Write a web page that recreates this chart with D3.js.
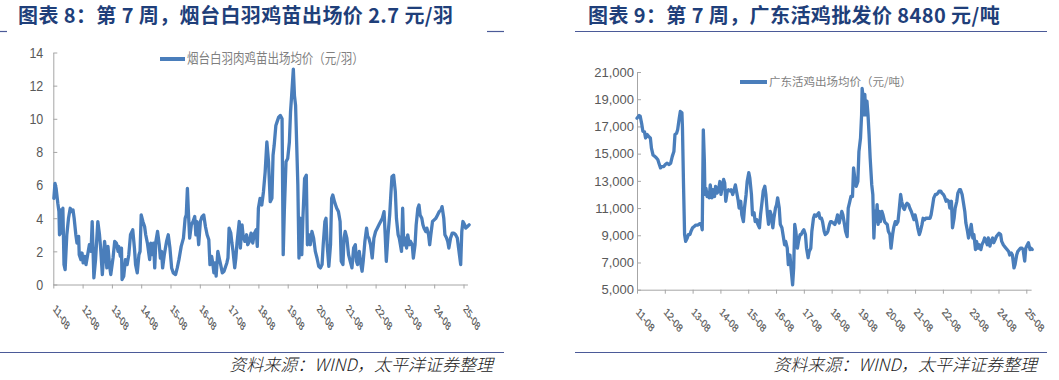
<!DOCTYPE html>
<html><head><meta charset="utf-8">
<script src="https://cdn.jsdelivr.net/npm/d3@7"></script>
<style>
body{margin:0;background:#fff}
svg{display:block}
.num{font-family:"Liberation Sans",Arial,sans-serif;fill:#595959}
.cjk{font-family:"Noto Sans CJK SC",sans-serif}
.ly text{transform-box:fill-box;transform-origin:center;transform:scaleY(1.2)}
</style></head>
<body>
<svg id="c" width="1059" height="380"></svg>
<script>
// ---------- data ----------
const xTickLabels = ["11-08","12-08","13-08","14-08","15-08","16-08","17-08","18-08","19-08","20-08","21-08","22-08","23-08","24-08","25-08"];
const xTickWeeks = [0,52,104,156,208,260,312,364,416,468,520,572,624,676,728];
const ytYTicks = [0,2,4,6,8,10,12,14];
const gdYTicks = [5000,7000,9000,11000,13000,15000,17000,19000,21000];

// 烟台白羽肉鸡苗出场均价 (元/羽) — week index since 2011-08
const ytWeek = [1,3,5,8,10,11,13,15,17,19,21,24,27,30,33,35,37,40,42,45,46,49,51,53,56,58,61,64,67,69,72,75,79,82,84,87,91,93,95,97,100,102,106,109,112,115,116,119,121,122,125,128,131,134,137,141,144,146,149,152,154,156,159,162,164,167,169,171,173,176,178,180,182,185,188,190,192,194,197,201,204,207,210,213,217,220,223,227,231,234,236,238,240,242,245,248,251,253,255,258,261,264,267,270,273,276,278,281,283,285,287,289,292,295,297,300,303,306,308,310,312,315,317,319,322,324,326,330,332,335,337,340,343,345,348,351,354,357,360,362,364,367,370,373,376,379,382,385,388,390,392,395,397,400,403,406,408,410,413,416,419,421,423,426,428,430,432,434,436,438,441,443,446,449,451,454,456,459,462,465,468,471,474,477,479,482,484,486,489,492,494,496,499,501,503,506,509,511,514,516,518,521,524,527,530,533,536,538,540,543,546,548,550,553,556,558,560,563,566,569,572,575,578,581,584,587,589,591,594,597,599,601,604,607,609,612,614,616,618,620,622,625,627,629,632,634,637,639,642,644,647,649,651,654,656,658,661,663,666,668,670,673,676,679,682,685,688,690,693,695,698,700,702,705,708,711,714,717,720,723,725,727,730,732,735,738];
const ytPrice = [5.2,6.1,5.8,4.9,4.4,3.0,4.5,3.1,4.6,1.2,0.9,3.0,4.0,4.6,4.4,4.5,4.0,3.0,2.5,2.9,1.8,1.5,1.9,1.3,1.7,1.2,1.8,2.4,2.0,3.8,0.4,1.5,3.8,3.0,2.2,0.6,2.6,2.0,1.0,2.3,1.1,0.6,1.6,2.6,2.5,2.0,2.3,1.7,2.2,0.3,0.5,1.5,1.2,1.8,3.0,3.3,2.2,1.2,0.7,1.8,2.0,4.2,3.8,3.5,3.0,2.5,2.0,1.5,2.5,1.8,2.5,1.0,2.6,3.2,2.4,1.6,2.0,1.0,1.8,2.6,3.0,2.2,1.0,0.7,0.6,1.0,1.5,2.3,2.8,4.0,4.2,5.8,4.2,2.8,3.6,3.8,4.1,3.0,3.8,2.4,3.8,4.1,4.2,3.5,3.0,2.7,1.2,1.7,1.3,0.7,1.3,0.5,2.0,1.5,1.2,0.7,0.8,1.1,1.3,1.6,3.4,3.1,2.5,2.0,1.0,1.6,2.5,3.8,2.2,3.6,2.9,2.6,3.0,2.4,2.6,3.1,2.5,3.1,3.3,2.3,4.6,5.2,4.8,5.6,6.8,8.6,7.4,5.0,5.2,7.8,8.4,9.6,9.8,10.1,10.2,10.0,1.8,4.4,7.4,7.6,8.6,10.4,11.4,13.0,11.4,10.8,8.4,6.0,1.6,4.0,1.8,4.0,6.4,6.6,2.4,3.0,2.4,3.2,2.8,2.0,1.6,1.1,1.0,1.2,2.4,3.8,4.0,2.4,1.1,2.4,5.2,5.4,5.0,4.8,4.6,4.4,3.8,1.4,1.2,2.8,3.2,2.8,1.8,1.4,1.0,2.2,2.4,1.4,1.2,2.0,1.2,0.8,1.4,2.6,3.4,2.9,2.8,2.4,1.6,2.8,3.2,3.4,3.6,3.8,4.0,4.4,3.0,1.4,3.0,4.2,5.4,6.5,6.6,5.6,4.0,3.0,2.8,2.4,2.0,4.6,2.4,2.8,2.2,3.0,2.4,2.6,2.4,1.6,2.4,3.6,4.6,4.8,4.2,4.0,3.6,3.4,3.2,3.4,3.0,2.4,3.0,3.8,3.9,4.0,4.2,4.4,4.5,4.7,4.0,3.0,2.8,2.6,2.2,2.8,3.1,3.1,3.0,2.8,2.0,1.2,3.2,3.8,3.6,3.4,3.5,3.6];

// 广东活鸡出场均价 (元/吨) — week index since 2011-08
const gdWeek = [0,4,6,9,11,14,16,19,22,25,27,30,33,36,39,41,44,46,50,53,56,60,63,66,69,71,74,76,79,81,84,85,87,89,91,94,96,99,101,104,107,110,114,117,120,122,124,126,127,129,131,134,135,137,140,142,145,147,150,152,155,157,159,162,164,166,169,171,174,176,179,181,184,186,189,191,194,196,199,201,204,206,209,211,214,216,219,221,224,226,229,231,234,236,239,241,244,246,249,251,254,256,259,261,263,266,268,271,273,276,278,281,283,286,288,291,293,295,297,300,302,305,307,310,312,315,317,320,322,325,327,330,332,335,337,340,342,345,347,350,352,355,357,360,362,364,367,370,373,375,378,380,383,385,388,390,393,395,398,400,403,405,408,410,413,415,418,420,421,423,425,426,428,430,432,434,436,439,441,443,445,447,449,451,453,455,458,460,463,465,468,470,473,475,478,480,483,485,488,490,493,495,498,500,503,505,508,510,513,515,518,520,523,525,528,530,533,535,538,540,543,545,548,550,553,555,558,560,563,565,568,570,573,575,578,580,583,585,588,590,593,595,598,600,603,605,608,610,613,615,618,620,623,625,628,630,633,635,638,640,643,645,648,650,653,655,657,660,662,665,667,670,672,675,677,680,682,685,687,690,692,695,697,700,702,705,707,710,712,715,717,720,722,725,727,730,732,735,737,739];
const gdPrice = [17600,17800,17750,17150,16650,16600,16150,16400,16250,16150,15400,14900,14800,14700,14550,14300,13950,14050,14050,14200,14300,14200,14300,14800,15150,16400,16500,16750,17600,18100,18000,16900,12700,9050,8550,8800,9050,9050,9300,9550,9650,9750,9750,9850,9850,9400,16750,14450,12000,12450,11850,12100,11750,12700,11750,12350,11850,12600,12100,12250,12950,12000,12450,13100,12850,11500,12250,12350,12250,12350,12000,12250,12700,12250,11600,11000,11500,10500,10000,11000,12000,12950,13600,13200,12000,10500,10650,10000,10150,9800,9550,10500,11500,12250,12600,12000,10500,9800,10750,10500,9550,10250,11000,11250,11750,11000,9800,9550,9050,8300,8550,8050,6850,7550,6600,5350,6600,9800,9300,8050,8550,9050,9050,9300,9400,9050,8050,7350,7800,8050,9300,10250,10500,10400,10500,10650,10250,10250,10000,9300,9050,9150,9300,9800,10000,10000,9900,9800,10150,10500,9900,10250,10750,10500,9800,9300,8900,11000,11500,11850,11850,13950,12950,12600,12950,15150,16150,17850,19800,19100,17850,19350,17850,18850,17850,16400,14700,12700,12000,8800,10750,10000,11250,9800,10750,10000,10750,10500,10000,9900,9800,9300,9050,8050,9050,9550,10000,9800,10000,10750,12000,11500,11000,10900,11250,11350,11250,11000,10750,10500,10150,10500,10000,9550,9050,9300,9800,10250,10150,10250,10250,10250,10250,10500,11250,11750,12000,12000,12100,12250,12250,12100,12000,11850,11500,11600,11500,11000,11500,9550,10250,11000,11500,12100,12350,12350,12000,11500,10750,9900,9300,8800,9300,9800,8800,9050,7950,8550,8050,8300,7950,8300,8550,8800,8550,8300,8800,8200,8550,8800,8450,8700,8900,9050,9150,9050,8550,8300,8200,8050,7950,7800,7550,7700,7550,6600,6850,7550,7800,7950,8050,8050,7950,7100,8050,8300,8450,7950,8050,7950];

const titles = ["图表 8：第 7 周，烟台白羽鸡苗出场价 2.7 元/羽", "图表 9：第 7 周，广东活鸡批发价 8480 元/吨"];
const legendNames = ["烟台白羽肉鸡苗出场均价（元/羽）", "广东活鸡出场均价（元/吨）"];
const sourceText = "资料来源：WIND，太平洋证券整理";

// ---------- drawing ----------
const svg = d3.select("#c");
const LINE = "#4a7ebb", AX = "#a6a6a6", NAVY = "#1f3f7a", RULE = "#4b5a98";

function panel(o) {
  const x = d3.scaleLinear().domain([0, 728]).range([o.x0, o.x14]);
  const xa = x.copy().domain([0, o.xEnd]).range([x(0), x(o.xEnd)]);
  const y = d3.scaleLinear().domain(o.yDom).range([o.yB, o.yT]);

  // y axis
  const gy = svg.append("g").attr("class", o.yClass || "")
    .attr("transform", `translate(${o.x0},0)`)
    .call(d3.axisLeft(y).tickValues(o.yTicks).tickSize(-4).tickSizeOuter(0)
      .tickPadding(o.yPad).tickFormat(o.yFmt));
  gy.select(".domain").attr("stroke", AX);
  gy.selectAll(".tick line").attr("stroke", AX);
  gy.selectAll("text").attr("class", "num").attr("font-size", o.yFont).attr("fill", "#595959");

  // x axis
  const gx = svg.append("g").attr("transform", `translate(0,${o.yB})`)
    .call(d3.axisBottom(xa).tickValues(xTickWeeks).tickSize(4).tickSizeOuter(0)
      .tickFormat((d, i) => xTickLabels[i]));
  gx.select(".domain").attr("stroke", AX);
  gx.selectAll(".tick line").attr("stroke", AX);
  gx.selectAll("text").attr("class", "num").attr("font-size", 13).attr("fill", "#4d4d4d")
    .attr("stroke", "#4d4d4d").attr("stroke-width", 0.25)
    .attr("text-anchor", "start").attr("x", 0).attr("y", 0).attr("dy", 0)
    .attr("transform", o.xLabTf);

  // series line
  const idx = d3.range(o.week.length);
  svg.append("path")
    .attr("fill", "none").attr("stroke", LINE).attr("stroke-width", 3.3)
    .attr("stroke-linejoin", "round").attr("stroke-linecap", "round")
    .attr("d", d3.line().x(i => x(o.week[i])).y(i => y(o.price[i]))(idx));

  // legend
  svg.append("line").attr("x1", o.lgX).attr("x2", o.lgX + o.lgW)
    .attr("y1", o.lgY).attr("y2", o.lgY).attr("stroke", LINE).attr("stroke-width", 4);
  svg.append("text").attr("class", "cjk").attr("fill", "#7f7f7f")
    .attr("font-size", o.lgFont)
    .attr("transform", `translate(${o.lgX + o.lgW + 2},${o.lgY + 4}) scale(1,${o.lgSy})`)
    .text(o.legend);
}

panel({
  x0: 53.3, x14: 463.5, xEnd: 735, yB: 284.5, yT: 52.5, yDom: [0, 14], yTicks: ytYTicks,
  yFmt: d3.format("d"), yPad: 10, yFont: 12.5, yClass: "ly",
  xLabTf: "translate(-1,25) scale(0.6,0.92) rotate(45)",
  week: ytWeek, price: ytPrice,
  lgX: 160, lgW: 25, lgY: 59, lgFont: 11.5, lgSy: 1.2, legend: legendNames[0]
});
panel({
  x0: 637, x14: 1026.3, xEnd: 737, yB: 289.7, yT: 72, yDom: [5000, 21000], yTicks: gdYTicks,
  yFmt: d3.format(","), yPad: 3, yFont: 13, yClass: "",
  xLabTf: "translate(-2,23) scale(0.68,0.86) rotate(45)",
  week: gdWeek, price: gdPrice,
  lgX: 740, lgW: 27, lgY: 82, lgFont: 11.5, lgSy: 1, legend: legendNames[1]
});

// titles
[[18, titles[0]], [588, titles[1]]].forEach(([tx, t]) => {
  svg.append("text").attr("class", "cjk").attr("x", tx).attr("y", 23)
    .attr("font-size", 20).attr("font-weight", 700).attr("letter-spacing", 0.4)
    .attr("fill", NAVY).text(t);
});

// rules
[[0, 7, 31.5], [487, 504, 31.5], [575, 1047, 31.5], [0, 504, 352.5], [575, 1047, 352.5]].forEach(([a, b, yy]) => {
  svg.append("line").attr("x1", a).attr("x2", b).attr("y1", yy).attr("y2", yy)
    .attr("stroke", RULE).attr("stroke-width", 1.2);
});

// source notes
[493, 1037].forEach(sx => {
  svg.append("text").attr("class", "cjk").attr("x", sx).attr("y", 371)
    .attr("text-anchor", "end").attr("font-size", 17).attr("font-style", "italic")
    .attr("font-weight", 300).attr("fill", "#222").text(sourceText);
});
</script>
</body></html>
